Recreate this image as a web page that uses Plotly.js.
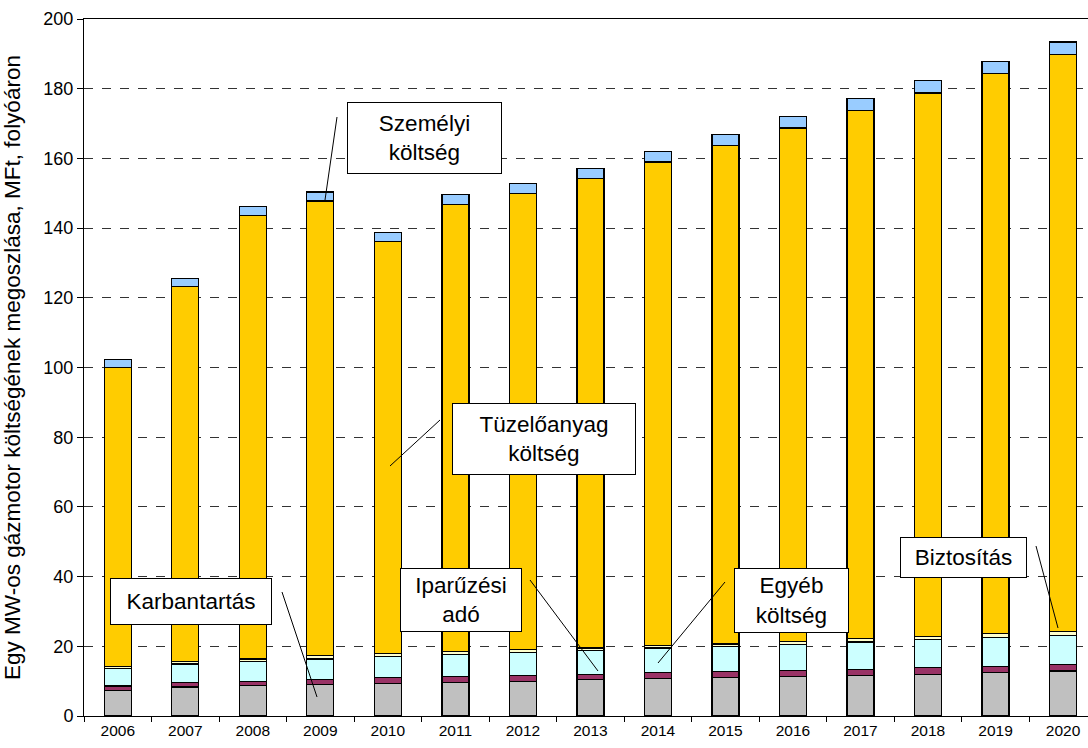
<!DOCTYPE html>
<html>
<head>
<meta charset="utf-8">
<script src="https://cdn.plot.ly/plotly-3.0.1.min.js"></script>
<style>html,body{margin:0;padding:0;background:#fff;}#chart{width:1088px;height:748px;}</style>
</head>
<body>
<div id="chart"></div>
<script>
// Data (MFt / MW, folyóáron)
const years = ['2006','2007','2008','2009','2010','2011','2012','2013','2014','2015','2016','2017','2018','2019','2020'];
const karbantartas = [7.3, 8.3, 8.7, 9.0, 9.4, 9.7, 10.0, 10.4, 10.8, 11.1, 11.4, 11.6, 12.0, 12.5, 12.9];
const iparuzesiAdo = [1.3, 1.3, 1.3, 1.5, 1.6, 1.6, 1.6, 1.5, 1.6, 1.7, 1.7, 1.8, 1.9, 1.8, 1.9];
const egyebKoltseg = [5.0, 5.3, 5.7, 5.9, 6.1, 6.4, 6.7, 6.9, 7.1, 7.2, 7.4, 7.8, 8.0, 8.2, 8.3];
const biztositas   = [0.6, 0.7, 0.7, 0.9, 0.8, 0.8, 0.7, 0.7, 0.8, 0.7, 0.9, 1.0, 1.0, 1.1, 1.1];
const tuzeloanyag  = [85.9, 107.6, 127.3, 130.5, 118.2, 128.2, 130.9, 134.8, 138.7, 143.1, 147.3, 151.6, 155.9, 160.8, 165.7];
const szemelyi     = [2.1, 2.4, 2.5, 2.6, 2.6, 2.9, 2.9, 2.9, 3.0, 3.1, 3.3, 3.3, 3.6, 3.4, 3.5];
const yTicks = [0, 20, 40, 60, 80, 100, 120, 140, 160, 180, 200];

const W = 1088, H = 748, L = 84, R = 0, T = 19, B = 32;
const px = x => (x - L) / (W - L - R);
const py = y => (H - B - y) / (H - T - B);

function bar(name, vals, color) {
  return {type: 'bar', name: name, x: years, y: vals,
    marker: {color: color, line: {color: '#000', width: 1.3}},
    hoverinfo: 'name+y'};
}
const data = [
  bar('Karbantartás', karbantartas, '#C0C0C0'),
  bar('Iparűzési adó', iparuzesiAdo, '#993366'),
  bar('Egyéb költség', egyebKoltseg, '#CCFFFF'),
  bar('Biztosítás', biztositas, '#FFFFCC'),
  bar('Tüzelőanyag költség', tuzeloanyag, '#FFCC00'),
  bar('Személyi költség', szemelyi, '#99CCFF')
];

const labels = [
  {text: 'Személyi<br>költség', cx: 424.5, cy: 138, w: 155, h: 72},
  {text: 'Tüzelőanyag<br>költség', cx: 544, cy: 439, w: 184, h: 72},
  {text: 'Karbantartás', cx: 191, cy: 601.5, w: 162, h: 47},
  {text: 'Iparűzési<br>adó', cx: 461, cy: 600, w: 122, h: 64},
  {text: 'Egyéb<br>költség', cx: 791.5, cy: 600.5, w: 115, h: 65},
  {text: 'Biztosítás', cx: 963.5, cy: 557.5, w: 127, h: 41}
];
const leaders = [
  [337, 117, 325, 200],
  [440, 420, 390, 466],
  [282, 592, 317, 697],
  [530, 580, 598, 671],
  [725, 582, 658, 663],
  [1036, 546, 1058, 628]
];

const annotations = labels.map(a => ({
  xref: 'paper', yref: 'paper', x: px(a.cx), y: py(a.cy),
  xanchor: 'center', yanchor: 'middle', showarrow: false,
  text: a.text, width: a.w - 2, height: a.h - 2, borderpad: 0,
  bordercolor: '#000', borderwidth: 1, bgcolor: '#fff',
  font: {family: 'Liberation Sans, Arial, sans-serif', size: 22.5, color: '#000'},
  align: 'center', valign: 'middle'
}));
const shapes = leaders.map(l => ({
  type: 'line', xref: 'paper', yref: 'paper',
  x0: px(l[0]), y0: py(l[1]), x1: px(l[2]), y1: py(l[3]),
  line: {color: '#000', width: 1}
}));

const layout = {
  width: W, height: H,
  margin: {l: L, r: R, t: T, b: B, pad: 0},
  paper_bgcolor: '#fff', plot_bgcolor: '#fff',
  barmode: 'stack', bargap: 0.6,
  showlegend: false,
  font: {family: 'Liberation Sans, Arial, sans-serif', color: '#000'},
  xaxis: {
    type: 'category', range: [-0.5, 14.37],
    showline: true, linecolor: '#000', linewidth: 1, mirror: true,
    ticks: 'outside', tickson: 'boundaries', ticklen: 5, tickcolor: '#000',
    showgrid: false, tickfont: {size: 15.5}, automargin: false
  },
  yaxis: {
    range: [0, 200], tickvals: yTicks,
    showline: true, linecolor: '#000', linewidth: 1,
    ticks: 'outside', ticklen: 6, tickcolor: '#000',
    showgrid: true, gridcolor: '#333', griddash: 'dash', gridwidth: 1,
    zeroline: false, tickfont: {size: 18}, automargin: false,
    title: {text: 'Egy MW-os gázmotor költségének megoszlása, MFt, folyóáron',
            font: {size: 22.5}, standoff: 16}
  },
  annotations: annotations,
  shapes: shapes
};

Plotly.newPlot('chart', data, layout, {displayModeBar: false, staticPlot: true});
</script>
</body>
</html>
